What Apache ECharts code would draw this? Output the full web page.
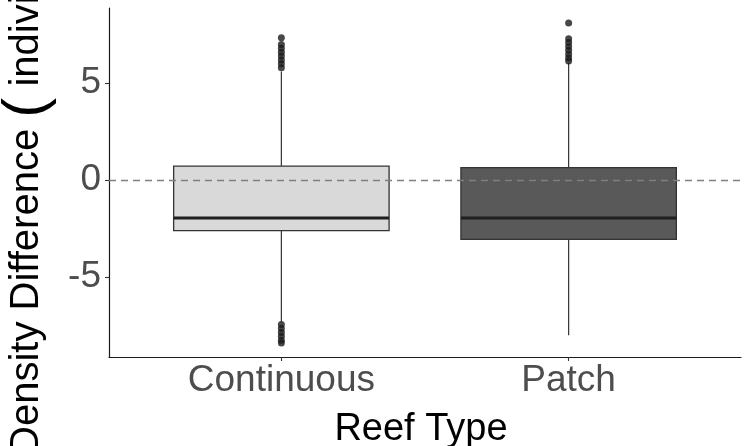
<!DOCTYPE html>
<html>
<head>
<meta charset="utf-8">
<script src="https://cdn.jsdelivr.net/npm/echarts@6/dist/echarts.min.js"></script>
<style>
html,body{margin:0;padding:0;background:#fff;}
#chart{width:748px;height:446px;}
</style>
</head>
<body>
<div id="chart"></div>
<script>
// ---- data ----
const categories = ['Continuous', 'Patch'];
const whiskerLow  = [-7.3, -8.0];
const q1          = [-2.6, -3.05];
const median      = [-1.95, -1.95];
const q3          = [0.72, 0.65];
const whiskerHigh = [5.6, 6.05];
const outliersContinuous = [7.35, 7.0, 6.8, 6.6, 6.4, 6.2, 6.0, 5.8, -7.45, -7.65, -7.85, -8.05, -8.25, -8.4];
const outliersPatch = [8.1, 7.3, 7.1, 6.9, 6.7, 6.5, 6.3, 6.15];
const yTickValues = [-5, 0, 5];
const boxFill = ['#D9D9D9', '#595959'];

// ---- build ----
const boxData = categories.map((c, i) => [i + 1, whiskerLow[i], q1[i], median[i], q3[i], whiskerHigh[i]]);
const outlierData = [];
outliersContinuous.forEach(v => outlierData.push([1, v]));
outliersPatch.forEach(v => outlierData.push([2, v]));

const halfW = 0.375;
function renderBox(params, api) {
  const x = api.value(0);
  const lo = api.coord([x, api.value(1)]);
  const b = api.coord([x - halfW, api.value(2)]);
  const m1 = api.coord([x - halfW, api.value(3)]);
  const m2 = api.coord([x + halfW, api.value(3)]);
  const t = api.coord([x + halfW, api.value(4)]);
  const hi = api.coord([x, api.value(5)]);
  const stroke = '#333333';
  return {
    type: 'group',
    children: [
      { type: 'line', shape: { x1: lo[0], y1: lo[1], x2: lo[0], y2: b[1] }, style: { stroke: stroke, lineWidth: 1.2 } },
      { type: 'line', shape: { x1: hi[0], y1: t[1], x2: hi[0], y2: hi[1] }, style: { stroke: stroke, lineWidth: 1.2 } },
      { type: 'rect', shape: { x: b[0], y: t[1], width: t[0] - b[0], height: b[1] - t[1] },
        style: { fill: boxFill[params.dataIndex], stroke: stroke, lineWidth: 1.3 } },
      { type: 'line', shape: { x1: m1[0], y1: m1[1], x2: m2[0], y2: m2[1] }, style: { stroke: '#1f1f1f', lineWidth: 2.8 } }
    ]
  };
}

const chart = echarts.init(document.getElementById('chart'), null, { renderer: 'canvas' });
chart.setOption({
  animation: false,
  backgroundColor: '#ffffff',
  grid: { left: 109, right: 7, top: 8, bottom: 89, containLabel: false, outerBoundsMode: 'none' },
  xAxis: {
    type: 'value',
    min: 0.4, max: 2.6,
    name: 'Reef Type',
    nameLocation: 'middle',
    nameGap: 54,
    nameTextStyle: { fontFamily: 'Liberation Sans', fontSize: 38, color: '#000000', padding: [0, 8, 0, 0] },
    axisLine: { show: true, onZero: false, lineStyle: { color: '#1a1a1a', width: 1.2 } },
    axisTick: { show: true, length: 4, customValues: [1, 2], lineStyle: { color: '#333333', width: 1.1 } },
    axisLabel: {
      customValues: [1, 2],
      hideOverlap: false,
      formatter: v => categories[Math.round(v) - 1],
      fontFamily: 'Liberation Sans', fontSize: 37, color: '#4D4D4D', margin: 5
    },
    splitLine: { show: false }
  },
  yAxis: {
    type: 'value',
    min: -9.12, max: 8.88,
    name: 'Density Difference {p|(} individuals/m²{p|)}',
    nameLocation: 'middle',
    nameRotate: 90,
    nameGap: 32,
    nameTextStyle: {
      fontFamily: 'Liberation Sans', fontSize: 40, color: '#000000',
      padding: [0, 0, 0, 88],
      rich: { p: { fontFamily: 'Liberation Sans', fontSize: 60, color: '#000000' } }
    },
    axisLine: { show: true, onZero: false, lineStyle: { color: '#1a1a1a', width: 1.2 } },
    axisTick: { show: true, length: 4, customValues: yTickValues, lineStyle: { color: '#333333', width: 1.1 } },
    axisLabel: {
      customValues: yTickValues,
      hideOverlap: false,
      fontFamily: 'Liberation Sans', fontSize: 37, color: '#4D4D4D', margin: 8
    },
    splitLine: { show: false }
  },
  series: [
    {
      type: 'custom',
      renderItem: renderBox,
      data: boxData,
      encode: { x: 0, y: [1, 2, 3, 4, 5] },
      z: 2
    },
    {
      type: 'scatter',
      data: outlierData,
      symbol: 'circle',
      symbolSize: 7,
      itemStyle: { color: '#1a1a1a' },
      z: 3
    },
    {
      type: 'line',
      data: [],
      z: 5,
      markLine: {
        silent: true,
        symbol: ['none', 'none'],
        label: { show: false },
        lineStyle: { type: [7, 5], color: '#7F7F7F', width: 1.3 },
        data: [{ yAxis: 0 }]
      }
    }
  ]
});
</script>
</body>
</html>
